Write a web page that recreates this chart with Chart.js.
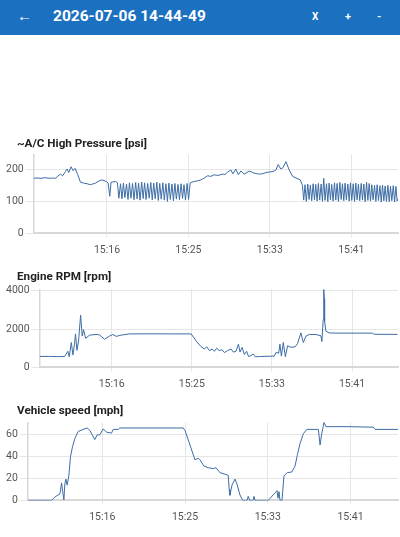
<!DOCTYPE html>
<html lang="en">
<head>
<meta charset="UTF-8">
<meta name="viewport" content="width=device-width, initial-scale=1.0">
<title>2026-07-06 14-44-49</title>
<script src="https://cdn.jsdelivr.net/npm/chart.js@4"></script>
<style>
    body { margin: 0; width: 400px; height: 537px; background: #fff; font-family: Roboto, sans-serif; position: relative; overflow: hidden; }
    .bar { position: absolute; left: 0; top: 0; width: 400px; height: 35px; background: #1b70bf; color: #fff; }
    .bar span { position: absolute; top: 0; line-height: 33px; }
    .title { position: absolute; left: 17px; font-weight: bold; font-size: 11.7px; color: #222; line-height: 14px; }
    canvas { position: absolute; left: 0; }
</style>
</head>
<body>
<div class="bar">
    <span style="left:17px;font-size:15px;">&#8592;</span>
    <span style="left:53px;font-size:15.5px;font-weight:bold;">2026-07-06 14-44-49</span>
    <span style="left:312px;font-size:10px;font-weight:bold;">X</span>
    <span style="left:345px;font-size:11px;font-weight:bold;">+</span>
    <span style="left:377px;font-size:11px;font-weight:bold;">-</span>
</div>

<canvas id="pressureChart" width="400" height="118" style="top:146px"></canvas>
<canvas id="rpmChart" width="400" height="117" style="top:281px"></canvas>
<canvas id="speedChart" width="400" height="117" style="top:414px"></canvas>
<div class="title" style="top:136px">~A/C High Pressure [psi]</div>
<div class="title" style="top:269px">Engine RPM [rpm]</div>
<div class="title" style="top:403px">Vehicle speed [mph]</div>

<script>
    // time axis: seconds since midnight, start of log 15:09:10
    const startSec = 54550;
    const endSec = 56787;
    const xTickValues = [55000, 55500, 56000, 56500];
    const xTickLabels = ['15:16', '15:25', '15:33', '15:41'];

    // ~A/C High Pressure [psi]  (times are seconds after start)
    const pressureTime = [0, 20, 45, 70, 95, 120, 135, 143, 164, 178, 195, 205, 215, 229, 242, 254, 270, 287, 307, 328, 348, 379, 406, 420, 447, 457, 467, 475, 502,
        514, 523, 533, 542, 551, 560, 570, 579, 588, 597, 607, 616, 626, 635, 644, 653, 663, 672, 681, 690, 700, 709, 719, 728,
        737, 746, 756, 765, 774, 783, 793, 802, 812, 821, 830, 839, 849, 858, 867, 876, 886, 895, 905, 914, 923, 932, 942, 951,
        961, 983, 1005, 1026, 1045, 1068, 1088, 1108, 1131, 1160, 1175, 1190, 1211, 1223, 1241, 1257, 1272, 1292, 1310, 1323, 1354, 1375, 1395, 1415, 1436, 1469, 1487, 1501, 1518, 1530, 1549, 1569, 1590, 1616, 1637,
        1650, 1658, 1666, 1674, 1683, 1691, 1699, 1707, 1716, 1724, 1732, 1740, 1748, 1756, 1765, 1773, 1781, 1789, 1798, 1806,
        1814, 1822, 1830, 1838, 1847, 1855, 1863, 1871, 1880, 1888, 1896, 1904, 1912, 1920, 1929, 1937, 1945, 1953, 1962, 1970,
        1978, 1986, 1994, 2002, 2011, 2019, 2027, 2035, 2044, 2052, 2060, 2068, 2076, 2084, 2093, 2101, 2109, 2117, 2126, 2134,
        2142, 2150, 2158, 2166, 2175, 2183, 2191, 2199, 2208, 2216, 2224, 2232, 2237];
    const pressureValue = [172, 173, 172, 174, 172, 173, 172, 177, 185, 180, 193, 201, 190, 208, 196, 203, 184, 160, 157, 155, 152, 157, 165, 167, 162, 157, 116, 160, 162,
        158, 110, 155, 108, 157, 112, 154, 106, 158, 110, 156, 105, 159, 108, 157, 104, 160, 109, 158, 106, 156, 110, 159, 105,
        157, 108, 160, 103, 156, 107, 158, 104, 155, 100, 157, 106, 154, 102, 156, 107, 153, 105, 155, 109, 152, 104, 156, 106,
        158, 162, 164, 167, 172, 180, 178, 183, 181, 185, 184, 191, 198, 186, 201, 183, 195, 185, 190, 195, 188, 186, 185, 188, 191, 193, 198, 215, 201, 205, 224, 198, 178, 172, 167,
        150, 104, 152, 100, 154, 106, 151, 102, 155, 105, 153, 101, 156, 104, 154, 100, 172, 103, 155, 99,
        157, 105, 153, 101, 158, 104, 156, 100, 159, 106, 155, 102, 157, 105, 154, 101, 158, 103, 155, 100,
        157, 105, 153, 102, 156, 104, 154, 99, 160, 103, 156, 101, 152, 105, 150, 100, 152, 103, 149, 98,
        151, 102, 148, 100, 150, 99, 147, 102, 149, 98, 147, 101, 108];
    const pressureTicks = [0, 100, 200];

    // Engine RPM [rpm]
    const rpmTime = [0, 62, 112, 156, 166, 176, 185, 198, 208, 218, 224, 233, 243, 256, 266, 274, 287, 312, 353, 374, 405, 436, 457, 478, 509, 561, 686, 810, 946,
        977, 1008, 1029, 1043, 1060, 1077, 1091, 1105, 1122, 1139, 1153, 1174, 1195, 1209, 1226, 1241, 1251, 1264, 1278, 1292, 1304, 1320, 1334, 1347, 1372, 1413, 1465,
        1476, 1492, 1500, 1509, 1521, 1534, 1548, 1569, 1596, 1610, 1631, 1646, 1663, 1683, 1725, 1756, 1762, 1770, 1772, 1775, 1777, 1779, 1787, 1808, 1870, 2078, 2089, 2234];
    const rpmValue = [572, 575, 565, 570, 700, 840, 560, 1300, 650, 1215, 1750, 890, 1380, 2730, 1635, 1970, 1520, 1685, 1720, 1700, 1470, 1635, 1720, 1620, 1685, 1750, 1755, 1750, 1750,
        1380, 1080, 960, 1080, 875, 960, 840, 1000, 875, 920, 775, 880, 960, 800, 840, 1215, 800, 1045, 675, 840, 570, 620, 700, 550, 570, 580, 590,
        790, 740, 1215, 590, 1300, 560, 1130, 1050, 1080, 1250, 1800, 1300, 1635, 1720, 1720, 1650, 1350, 2500, 3800, 4080, 3600, 2400, 1890, 1800, 1790, 1790, 1730, 1725];
    const rpmTicks = [0, 2000, 4000];

    // Vehicle speed [mph]
    const speedTime = [0, 143, 163, 183, 194, 204, 212, 218, 224, 230, 238, 248, 258, 270, 284, 304, 334, 359, 375, 405, 419, 435, 455, 476, 506, 516, 546, 556, 939,
        950, 980, 1010, 1030, 1040, 1064, 1090, 1121, 1137, 1161, 1191, 1211, 1217, 1221, 1234, 1252, 1264, 1282, 1299, 1325, 1332, 1341, 1361, 1367, 1373, 1453,
        1465, 1482, 1496, 1506, 1512, 1518, 1524, 1536, 1548, 1568, 1595, 1615, 1629, 1645, 1665, 1686, 1756, 1766, 1776, 1790, 1802, 1947, 2088, 2099, 2240];
    const speedValue = [0, 0, 3, 5, 6, 16, 7, 0.5, 15, 19.5, 14, 22.5, 40, 49, 56.5, 63, 65, 66.3, 64, 55.7, 60, 60, 65.4, 62.5, 61.6, 65, 65, 66.3, 66.3,
        64, 50.7, 37.3, 38.5, 37.3, 31.4, 30, 29, 30, 25.4, 24, 23, 10, 4.7, 14, 19.5, 15, 5, 0, 0, 3.7, 0, 0, 3.7, 0, 0,
        2, 5, 7, 9, 2, 8, 0, 0, 22.5, 25.4, 26, 31.4, 41.8, 52, 61, 65, 65, 50.7, 61, 71.4, 67.5, 67.5, 67, 65, 65];
    const speedTicks = [0, 20, 40, 60];

    const lineColor = '#3d6da6';
    const gridColor = '#e6e6e6';
    const axisColor = '#d8d8d8';
    const tickFont = { family: 'Roboto', size: 10.5 };

    function makeChart(id, times, values, yMax, yTicks) {
        const points = times.map((t, i) => ({ x: startSec + t, y: values[i] }));
        return new Chart(document.getElementById(id), {
            type: 'line',
            data: {
                datasets: [{
                    data: points,
                    borderColor: lineColor,
                    borderWidth: 1,
                    pointRadius: 0,
                    tension: 0,
                    fill: false
                }]
            },
            options: {
                responsive: false,
                animation: false,
                layout: { padding: { left: 4, right: 2, top: 0, bottom: 0 } },
                plugins: { legend: { display: false }, tooltip: { enabled: false } },
                scales: {
                    x: {
                        type: 'linear',
                        min: startSec,
                        max: endSec,
                        afterBuildTicks: axis => { axis.ticks = xTickValues.map(v => ({ value: v })); },
                        ticks: {
                            callback: (v, i) => xTickLabels[i],
                            font: tickFont,
                            color: '#555',
                            padding: 7,
                            maxRotation: 0,
                            autoSkip: false
                        },
                        grid: { color: gridColor, tickLength: 4 },
                        border: { color: axisColor, width: 2 }
                    },
                    y: {
                        min: 0,
                        max: yMax,
                        afterBuildTicks: axis => { axis.ticks = yTicks.map(v => ({ value: v })); },
                        ticks: { font: tickFont, color: '#555', padding: 2, callback: v => String(v) },
                        grid: { color: gridColor, tickLength: 8 },
                        border: { color: axisColor, width: 1.5 }
                    }
                }
            }
        });
    }

    makeChart('pressureChart', pressureTime, pressureValue, 247, pressureTicks);
    makeChart('rpmChart', rpmTime, rpmValue, 4080, rpmTicks);
    makeChart('speedChart', speedTime, speedValue, 71.5, speedTicks);
</script>
</body>
</html>
